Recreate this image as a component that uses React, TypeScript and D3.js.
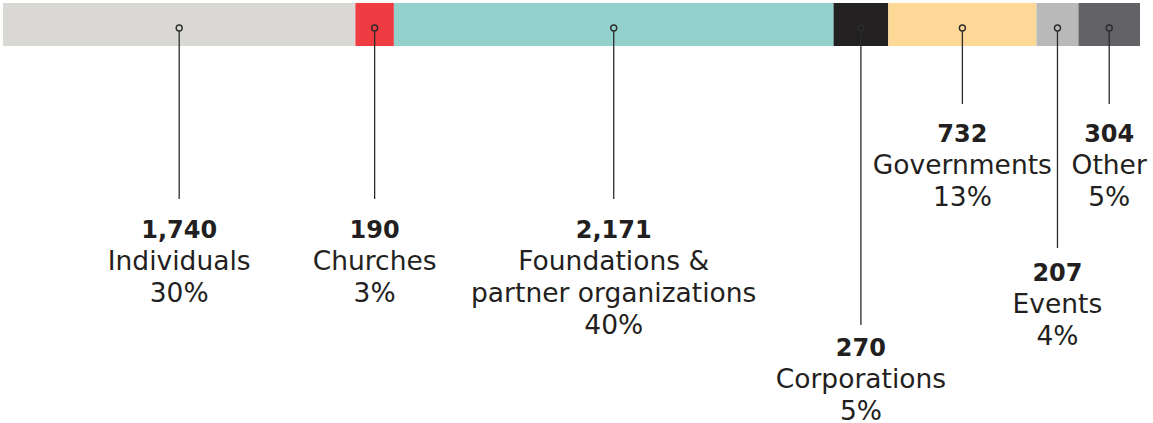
import React from "react";
import * as d3 from "d3";

const categories = ["Individuals", "Churches", "Foundations & partner organizations", "Corporations", "Governments", "Events", "Other"];
const labelLines = [["Individuals"], ["Churches"], ["Foundations &", "partner organizations"], ["Corporations"], ["Governments"], ["Events"], ["Other"]];
const values = [1740, 190, 2171, 270, 732, 207, 304];
const percents = ["30%", "3%", "40%", "5%", "13%", "4%", "5%"];
const colors = ["#d9d8d4", "#ef3b42", "#93d1cd", "#222021", "#fed896", "#b9b9b9", "#626267"];
// layout: baseline of the value label, and where the leader line ends
const labelBaselines = [238, 238, 238, 356, 142, 281, 142];
const lineEnds = [199, 199, 199, 325, 104, 248, 104];

const W = 1153;
const H = 423;
const barX0 = 3;
const barX1 = 1140;
const barY = 3;
const barH = 43;
const dotY = 28;
const lineGap = 32;
const textColor = "#231f20";
const font = "'DejaVu Sans', sans-serif";

export default function App() {
  const total = d3.sum(values);
  const x = d3.scaleLinear().domain([0, total]).range([barX0, barX1]);
  const starts = d3.cumsum([0, ...values]);
  const fmt = d3.format(",");

  return (
    <svg width={W} height={H} style={{ position: "absolute", left: 0, top: 0, background: "#fff" }}>
      {values.map((v, i) => {
        const xs = x(starts[i]);
        const xe = x(starts[i] + v);
        return <rect key={"r" + i} x={xs} y={barY} width={xe - xs} height={barH} fill={colors[i]} />;
      })}
      {values.map((v, i) => {
        const cx = (x(starts[i]) + x(starts[i] + v)) / 2;
        const b = labelBaselines[i];
        const lines = labelLines[i];
        return (
          <g key={"l" + i}>
            <line x1={cx} x2={cx} y1={dotY + 3} y2={lineEnds[i]} stroke="#2b2b2b" strokeWidth={1.3} />
            <circle cx={cx} cy={dotY} r={3} fill="none" stroke="#2b2b2b" strokeWidth={1.4} />
            <text x={cx} y={b} textAnchor="middle" fontFamily={font} fontWeight="bold" fontSize={24} fill={textColor}>
              {fmt(v)}
            </text>
            {lines.map((t, j) => (
              <text key={j} x={cx} y={b + lineGap * (j + 1)} textAnchor="middle" fontFamily={font} fontSize={26.5} fill={textColor}>
                {t}
              </text>
            ))}
            <text x={cx} y={b + lineGap * (lines.length + 1)} textAnchor="middle" fontFamily={font} fontSize={26.5} fill={textColor}>
              {percents[i]}
            </text>
          </g>
        );
      })}
    </svg>
  );
}
